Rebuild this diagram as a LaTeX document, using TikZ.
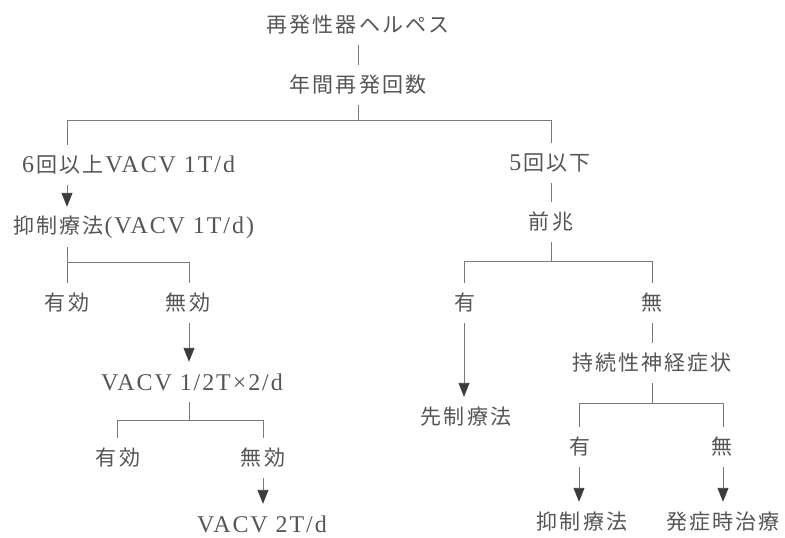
\documentclass[tikz,border=0pt]{standalone}
\usepackage{fontspec}
\setmainfont{Liberation Serif}[LetterSpace=8]
\newfontfamily\cjkf{Noto Sans CJK JP}[LetterSpace=10]
\newcommand\JT[1]{{\cjkf\fontsize{21}{25}\selectfont #1}}
\usetikzlibrary{arrows.meta}
\definecolor{txtc}{HTML}{555555}
\definecolor{linec}{HTML}{7A7A7A}
\definecolor{arrc}{HTML}{3C3C3C}
\begin{document}
\begin{tikzpicture}[x=1pt,y=-1pt,
  lbl/.style={inner sep=0pt, minimum height=40pt, text=txtc, font=\fontsize{24}{28}\selectfont},
  conn/.style={draw=linec, line width=0.9pt},
  arr/.style={conn, -{Triangle[width=11pt,length=14pt,fill=arrc,color=arrc]}}]
\useasboundingbox (0,0) rectangle (785,538);
% nodes
\node[lbl] (top) at (358,25) {\JT{再発性器ヘルペス}};
\node[lbl] (cnt) at (358,85) {\JT{年間再発回数}};
\node[lbl,anchor=west] (six) at (22,165) {6\kern2pt\JT{回以上}\kern2pt VACV 1T/d};
\node[lbl,anchor=west] (sup) at (13,227) {\JT{抑制療法}\kern1pt(VACV 1T/d)};
\node[lbl] (ef1) at (67,303) {\JT{有効}};
\node[lbl] (ne1) at (188,303) {\JT{無効}};
\node[lbl] (v1) at (192,382) {VACV 1/2T×2/d};
\node[lbl] (ef2) at (118,458) {\JT{有効}};
\node[lbl] (ne2) at (263,458) {\JT{無効}};
\node[lbl] (v2) at (262,524) {VACV 2T/d};
\node[lbl] (five) at (550,163) {5\kern2pt\JT{回以下}};
\node[lbl] (pro) at (551,222) {\JT{前兆}};
\node[lbl] (yes1) at (465,303) {\JT{有}};
\node[lbl] (no1) at (652,303) {\JT{無}};
\node[lbl] (pre) at (466,417) {\JT{先制療法}};
\node[lbl] (neu) at (652,363) {\JT{持続性神経症状}};
\node[lbl] (yes2) at (580,447) {\JT{有}};
\node[lbl] (no2) at (722,447) {\JT{無}};
\node[lbl] (sup2) at (582,522) {\JT{抑制療法}};
\node[lbl] (epi) at (723,522) {\JT{発症時治療}};
% junction coordinates
\coordinate (b1L) at (67,120);
\coordinate (b1R) at (551,120);
\coordinate (b2L) at (67,262);
\coordinate (b2R) at (189,262);
\coordinate (b3C) at (189,420);
\coordinate (b3L) at (117,420);
\coordinate (b3R) at (263,420);
\coordinate (b4L) at (464,261);
\coordinate (b4R) at (652,261);
\coordinate (b5L) at (579,403);
\coordinate (b5R) at (723,403);
% connectors
\draw[conn] (top.south) -- (cnt.north);
\draw[conn] (cnt.south) -- (cnt.south |- b1L);
\draw[conn] (b1L |- six.north) -- (b1L) -- (b1R) -- (b1R |- five.north);
\draw[arr] (b1L |- six.south) -- (b1L |- sup.north);
\draw[conn] (b2L |- sup.south) -- (b2L) -- (b2R) -- (b2R |- ne1.north);
\draw[conn] (b2L) -- (ef1.north);
\draw[arr] (b2R |- ne1.south) -- (b2R |- v1.north);
\draw[conn] (b3C |- v1.south) -- (b3C);
\draw[conn] (b3L |- ef2.north) -- (b3L) -- (b3R) -- (b3R |- ne2.north);
\draw[arr] (b3R |- ne2.south) -- (b3R |- v2.north);
\draw[conn] (b1R |- five.south) -- (b1R |- pro.north);
\draw[conn] (b1R |- pro.south) -- (b1R |- b4L);
\draw[conn] (b4L |- yes1.north) -- (b4L) -- (b4R) -- (b4R |- no1.north);
\draw[arr] (b4L |- yes1.south) -- (b4L |- pre.north);
\draw[conn] (no1.south) -- (neu.north);
\draw[conn] (neu.south) -- (neu.south |- b5L);
\draw[conn] (b5L |- yes2.north) -- (b5L) -- (b5R) -- (b5R |- no2.north);
\draw[arr] (b5L |- yes2.south) -- (b5L |- sup2.north);
\draw[arr] (b5R |- no2.south) -- (b5R |- epi.north);
\end{tikzpicture}
\end{document}
